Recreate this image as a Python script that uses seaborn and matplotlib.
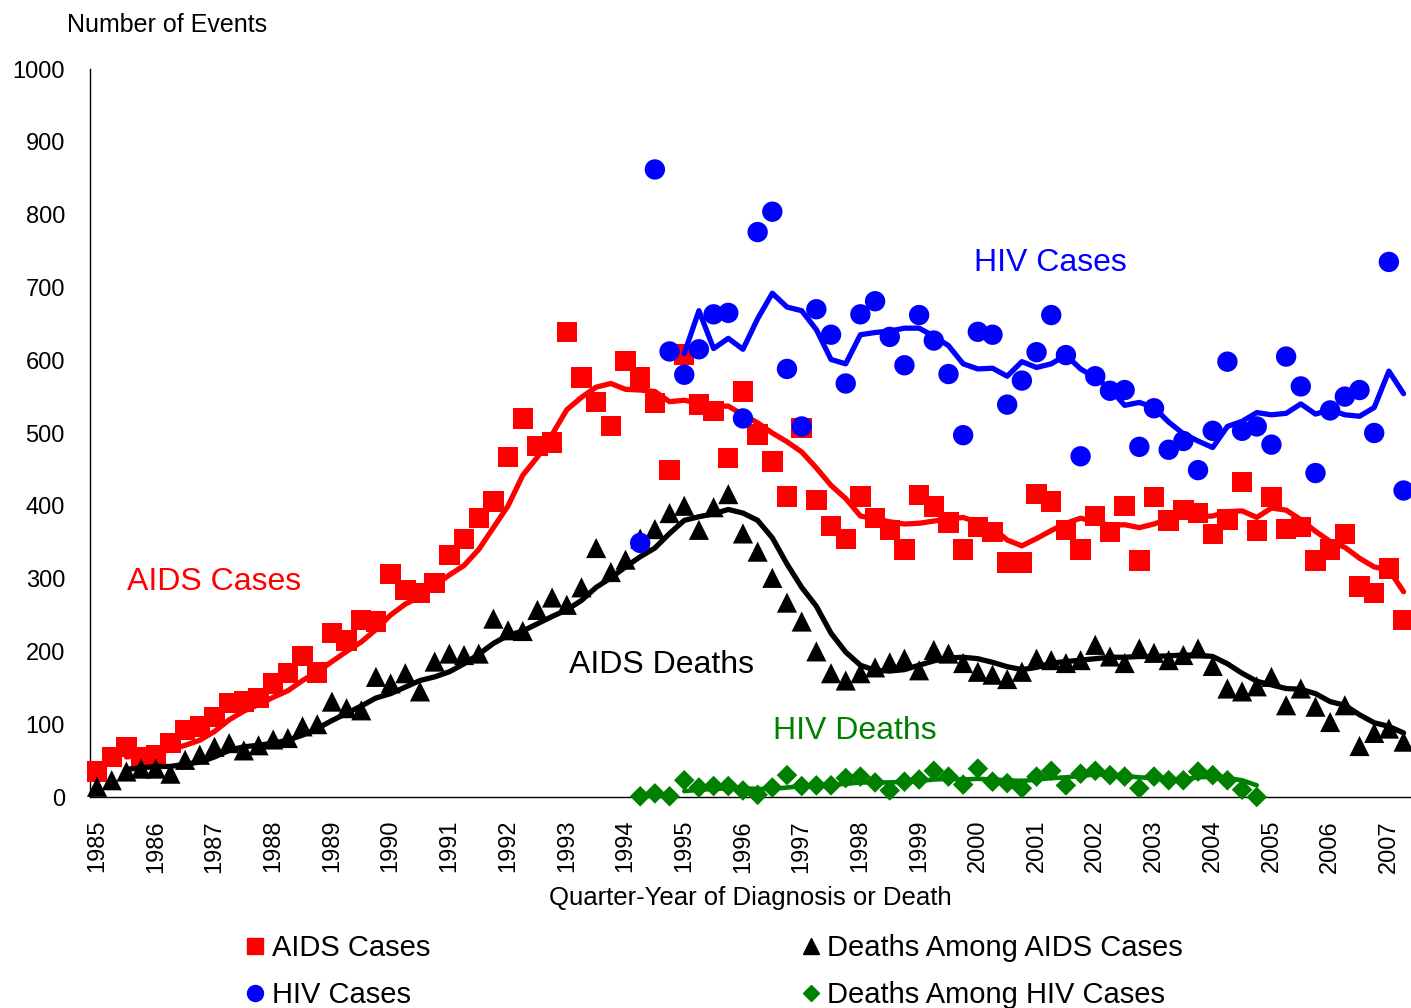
import numpy as np
import pandas as pd
import matplotlib
matplotlib.use("Agg")
import matplotlib.pyplot as plt
from matplotlib.lines import Line2D
from matplotlib.ticker import FixedLocator
import seaborn as sns

# ---------------- data (quarter index 0 = 1985 Q1 ... 89 = 2007 Q2) ----------------
years = [str(y) for y in range(1985, 2008)]

aids_cases = [35, 55, 69, 55, 58, 74, 92, 97, 110, 129, 131, 136, 156, 170, 194, 171,
              225, 215, 243, 241, 306, 284, 280, 294, 332, 354, 383, 406, 467, 520, 482, 487,
              639, 576, 543, 510, 599, 576, 541, 449, 608, 539, 530, 466, 557, 498, 461, 413,
              507, 408, 372, 354, 413, 383, 367, 340, 415, 399, 377, 340, 371, 364, 322, 322,
              416, 406, 367, 340, 386, 364, 400, 325, 412, 380, 394, 390, 361, 381, 433, 366,
              412, 368, 371, 325, 340, 361, 289, 280, 314, 243]

aids_cases_trend_start = 2
aids_cases_trend = [55, 57, 60, 65, 71, 78, 90, 106, 118, 127, 137, 146, 160, 172,
                    186, 200, 213, 230, 250, 265, 275, 290, 305, 318, 340, 370, 400, 442,
                    467, 498, 532, 549, 563, 568, 560, 559, 557, 543, 545, 541, 536, 537,
                    525, 514, 500, 488, 474, 452, 428, 410, 386, 382, 378, 375, 376, 379,
                    382, 384, 377, 370, 353, 345, 355, 366, 376, 383, 378, 373, 374, 370,
                    375, 382, 385, 385, 386, 392, 393, 384, 397, 394, 381, 365, 351, 343,
                    328, 316, 312, 282]

aids_deaths = [14, 23, 35, 39, 39, 32, 51, 58, 69, 74, 64, 71, 79, 81, 97, 100,
               131, 122, 119, 165, 156, 170, 145, 186, 197, 195, 197, 245, 229, 228, 257, 274,
               264, 288, 342, 309, 326, 355, 368, 390, 400, 367, 398, 416, 362, 337, 301, 267,
               241, 200, 170, 160, 170, 178, 185, 190, 174, 202, 197, 184, 172, 168, 162, 172,
               190, 188, 184, 188, 209, 193, 184, 204, 198, 188, 195, 204, 180, 149, 145, 152,
               165, 126, 149, 124, 103, 126, 70, 88, 94, 76]

aids_deaths_trend_start = 2
aids_deaths_trend = [38, 40, 42, 42, 45, 48, 55, 64, 69, 71, 74, 78, 85, 94, 105, 115,
                     125, 136, 142, 151, 160, 165, 172, 183, 196, 211, 222, 228, 238, 248,
                     257, 270, 288, 301, 316, 330, 342, 362, 380, 385, 389, 395, 390, 380,
                     356, 320, 288, 262, 225, 199, 181, 174, 173, 175, 181, 187, 191, 192,
                     190, 185, 179, 175, 178, 184, 186, 188, 190, 192, 192, 193, 193, 194,
                     195, 195, 193, 183, 170, 159, 154, 149, 148, 142, 131, 126, 113, 102,
                     97, 88]

hiv_cases_start = 37
hiv_cases = [349, 862, 612, 580, 615, 663, 665, 520, 776, 804, 588, 509, 670, 635, 568,
             663, 681, 632, 593, 662, 627, 581, 497, 639, 635, 539, 572, 611, 662, 607, 468,
             578, 558, 559, 481, 534, 477, 489, 449, 503, 598, 503, 509, 484, 605, 564, 445,
             531, 550, 559, 500, 735, 421]

hiv_cases_trend_start = 40
hiv_cases_trend = [609, 668, 616, 630, 615, 657, 692, 673, 668, 642, 601, 595, 635, 638,
                   640, 644, 644, 633, 620, 595, 588, 589, 578, 598, 590, 595, 607, 588,
                   576, 561, 538, 542, 535, 515, 499, 489, 480, 509, 516, 528, 525, 527,
                   540, 526, 532, 525, 523, 535, 585, 554]

hiv_deaths_start = 37
hiv_deaths = [1, 5, 1, 23, 13, 15, 15, 9, 3, 13, 30, 15, 16, 16, 26, 28, 20, 9, 21, 24,
              36, 28, 17, 39, 21, 19, 12, 28, 36, 16, 32, 36, 30, 28, 12, 28, 23, 23, 35,
              30, 23, 10, 0]

hiv_deaths_trend_start = 40
hiv_deaths_trend = [8, 10, 11, 12, 12, 11, 11, 13, 15, 16, 17, 18, 20, 20, 20, 21, 22,
                    24, 25, 24, 25, 24, 23, 22, 24, 26, 27, 29, 31, 31, 29, 27, 26, 25,
                    24, 27, 28, 26, 23, 16]

# ---------------- style ----------------
sns.set_style("white")
plt.rcParams['font.family'] = ['Liberation Sans', 'DejaVu Sans']
for key in ["text.color", "axes.labelcolor", "xtick.color", "ytick.color"]:
    plt.rcParams[key] = "black"

W, H = 1411, 1008
fig = plt.figure(figsize=(W / 100, H / 100), dpi=100)

def fx(px):
    return px / W

def fy(py):
    return 1 - py / H

ax_left, ax_right, ax_top, ax_bot = 89.7, 1410.9, 69, 797
ax = fig.add_axes([fx(ax_left), fy(ax_bot), (ax_right - ax_left) / W, (ax_bot - ax_top) / H])

RED, BLACK, BLUE, GREEN = "#FF0000", "#000000", "#0000FF", "#008000"
LW = 3.8

def series(start, vals):
    x = np.arange(start, start + len(vals))
    return x, np.array(vals, dtype=float)

def points(start, vals, marker, size, color, z):
    x, y = series(start, vals)
    sns.scatterplot(x=x, y=y, marker=marker, s=size, color=color, edgecolor="none",
                    linewidth=0, ax=ax, zorder=z, clip_on=False, legend=False)

def trend(start, vals, color, z, lw=LW):
    x, y = series(start, vals)
    sns.lineplot(x=x, y=y, color=color, linewidth=lw, ax=ax, zorder=z,
                 estimator=None, sort=False, legend=False,
                 solid_joinstyle="round", solid_capstyle="round")

points(0, aids_cases, "s", 215, RED, 3)
trend(aids_cases_trend_start, aids_cases_trend, RED, 4)
points(0, aids_deaths, "^", 210, BLACK, 5)
trend(aids_deaths_trend_start, aids_deaths_trend, BLACK, 6)
points(hiv_cases_start, hiv_cases, "o", 215, BLUE, 7)
trend(hiv_cases_trend_start, hiv_cases_trend, BLUE, 8)
points(hiv_deaths_start, hiv_deaths, "D", 110, GREEN, 9)
trend(hiv_deaths_trend_start, hiv_deaths_trend, GREEN, 10, lw=3.3)

# ---------------- axes ----------------
n_q = len(aids_cases)
ax.set_xlim(-0.5, n_q - 0.5)
ax.set_ylim(0, 1000)
ax.set_yticks(np.arange(0, 1001, 100))
ax.set_yticklabels([str(v) for v in range(0, 1001, 100)], fontsize=17)

ax.set_xticks(np.arange(0, 4 * len(years), 4))
ax.set_xticklabels(years, rotation=90, fontsize=17)
ax.xaxis.set_minor_locator(FixedLocator(np.arange(-0.5, n_q, 1.0)))

ax.tick_params(axis="x", which="major", length=0, pad=16.5)
ax.tick_params(axis="x", which="minor", length=5.2, width=1.0, color="#A6A6A6", direction="out")
ax.tick_params(axis="y", which="major", length=5.8, width=1.0, color="#A6A6A6", pad=12,
               direction="out")
ax.tick_params(axis="both", labelcolor="black")

for side in ["top", "right"]:
    ax.spines[side].set_visible(False)
for side in ["left", "bottom"]:
    ax.spines[side].set_color("black")
    ax.spines[side].set_linewidth(1.0)

ax.set_xlabel("Quarter-Year of Diagnosis or Death", fontsize=18.5, labelpad=10, color="black")
ax.set_ylabel("")
ax.grid(False)

fig.text(fx(67), fy(25), "Number of Events", fontsize=18, ha="left", va="center",
         color="black")

# in-chart series labels
ax.text(fx(127), fy(582), "AIDS Cases", color=RED, fontsize=23, ha="left", va="center",
        transform=fig.transFigure)
ax.text(fx(974), fy(263), "HIV Cases", color=BLUE, fontsize=23, ha="left", va="center",
        transform=fig.transFigure)
ax.text(fx(569), fy(665), "AIDS Deaths", color=BLACK, fontsize=23, ha="left", va="center",
        transform=fig.transFigure)
ax.text(fx(773), fy(731), "HIV Deaths", color=GREEN, fontsize=23, ha="left", va="center",
        transform=fig.transFigure)

# ---------------- legend ----------------
handles = [
    Line2D([], [], linestyle="none", marker="s", markersize=11, color=RED),
    Line2D([], [], linestyle="none", marker="o", markersize=11.5, color=BLUE),
    Line2D([], [], linestyle="none", marker="^", markersize=12, color=BLACK),
    Line2D([], [], linestyle="none", marker="D", markersize=8, color=GREEN),
]
labels = ["AIDS Cases", "HIV Cases", "Deaths Among AIDS Cases", "Deaths Among HIV Cases"]
leg = fig.legend(handles, labels, ncol=2, loc="upper left",
                 bbox_to_anchor=(fx(245), fy(934)), frameon=False, fontsize=21,
                 handlelength=0.7, handletextpad=0.22, columnspacing=12.7,
                 labelspacing=0.66, borderpad=0, borderaxespad=0)
for t in leg.get_texts():
    t.set_color("black")

fig.savefig("out.png", dpi=100)
